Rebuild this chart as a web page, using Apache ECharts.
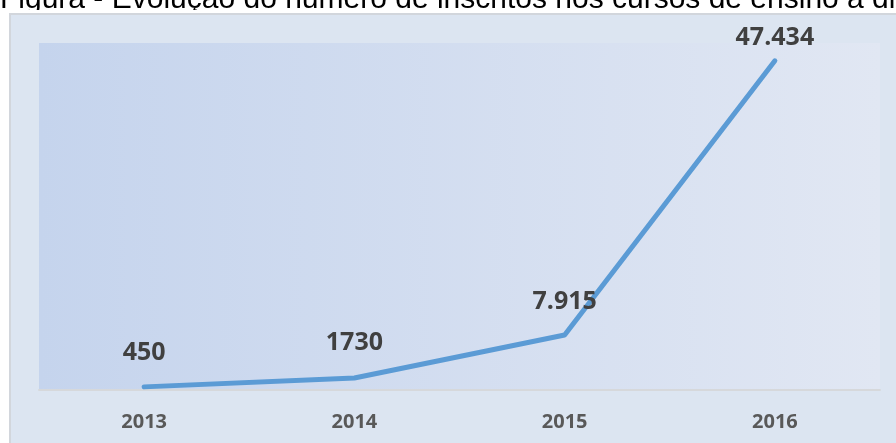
<!DOCTYPE html>
<html>
<head>
<meta charset="utf-8">
<script src="https://cdn.jsdelivr.net/npm/echarts@6/dist/echarts.min.js"></script>
<style>
html,body{margin:0;padding:0;background:#ffffff;overflow:hidden;}
#c{width:896px;height:443px;}
</style>
</head>
<body>
<div id="c"></div>
<script>
const titleText = 'Figura - Evolução do número de inscritos nos cursos de ensino a distância';
const categories = ['2013', '2014', '2015', '2016'];
const values = [450, 1730, 7915, 47434];
const valueLabels = ['450', '1730', '7.915', '47.434'];
const labelOffsets = [[0, -34], [0, -35], [0, -33], [0, -23]];

const chart = echarts.init(document.getElementById('c'), null, {renderer: 'canvas'});
chart.setOption({
  animation: false,
  backgroundColor: '#ffffff',
  graphic: [
    {type: 'text', left: 0, top: -15, z: 10, silent: true,
     style: {text: titleText, font: '30px "Liberation Sans", Arial, sans-serif', fill: '#000000'}},
    {type: 'rect', left: 0, top: 10, z: 20, silent: true,
     shape: {width: 896, height: 4},
     style: {fill: '#ffffff'}},
    {type: 'rect', left: 9, top: 13, z: 30, silent: true,
     shape: {width: 887, height: 430},
     style: {fill: '#dce5f1', stroke: '#d2d6dc', lineWidth: 2}}
  ],
  grid: {
    left: 39, right: 16, top: 43, bottom: 53, show: true, borderWidth: 0, z: 40,
    backgroundColor: new echarts.graphic.LinearGradient(0, 0, 1, 0, [
      {offset: 0, color: '#c5d4ed'},
      {offset: 1, color: '#e1e7f3'}
    ])
  },
  xAxis: {
    type: 'category', data: categories, boundaryGap: true, z: 50,
    axisLine: {show: true, lineStyle: {color: '#d6d8db', width: 2}},
    axisTick: {show: false},
    axisLabel: {color: '#595959', fontSize: 20, fontWeight: 'bold', fontFamily: '"Open Sans", sans-serif', margin: 22}
  },
  yAxis: {
    type: 'value', min: 0, max: 50000, show: false, splitLine: {show: false}
  },
  series: [{
    type: 'line', z: 60, data: values.map((v, i) => ({
      value: v,
      label: {show: true, position: 'inside', formatter: valueLabels[i], offset: labelOffsets[i]}
    })),
    showSymbol: true, symbol: 'circle', symbolSize: 2,
    itemStyle: {color: '#5b9bd5'},
    lineStyle: {color: '#5b9bd5', width: 5, cap: 'round', join: 'round'},
    label: {show: true, position: 'inside', color: '#404040', fontSize: 25, fontWeight: 'bold', fontFamily: '"Open Sans", sans-serif'}
  }]
});
</script>
</body>
</html>
